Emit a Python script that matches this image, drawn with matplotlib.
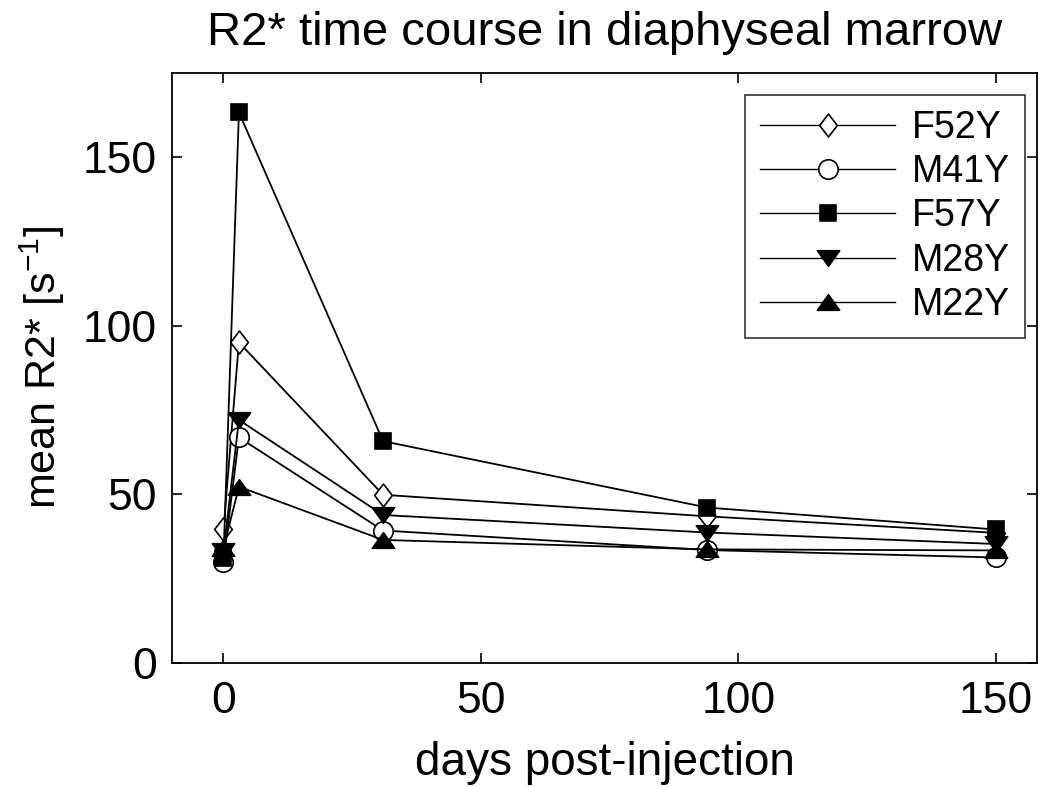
import matplotlib
matplotlib.use("Agg")
import matplotlib.pyplot as plt
from matplotlib.path import Path

plt.rcParams['font.family'] = ['Liberation Sans', 'DejaVu Sans']
plt.rcParams['mathtext.fontset'] = 'custom'
plt.rcParams['mathtext.rm'] = 'Liberation Sans'
plt.rcParams['mathtext.it'] = 'Liberation Sans:italic'

days = [0, 3, 31, 94, 150]
series_names = ["F52Y", "M41Y", "F57Y", "M28Y", "M22Y"]
F52Y = [39.5, 95.0, 49.8, 43.4, 38.5]
M41Y = [30.0, 66.8, 39.2, 33.4, 31.2]
F57Y = [31.0, 163.2, 65.7, 46.0, 39.5]
M28Y = [33.0, 72.0, 43.8, 38.6, 35.2]
M22Y = [34.0, 52.2, 36.4, 33.6, 33.3]
values = [F52Y, M41Y, F57Y, M28Y, M22Y]
xticks = [0, 50, 100, 150]
yticks = [0, 50, 100, 150]

diamond = Path([(0, 1), (0.77, 0), (0, -1), (-0.77, 0), (0, 1)],
               [Path.MOVETO, Path.LINETO, Path.LINETO, Path.LINETO, Path.CLOSEPOLY])
tri_down = Path([(-1, 0.7), (1, 0.7), (0, -0.7), (-1, 0.7)],
                [Path.MOVETO, Path.LINETO, Path.LINETO, Path.CLOSEPOLY])
tri_up = Path([(-1, -0.7), (1, -0.7), (0, 0.7), (-1, -0.7)],
              [Path.MOVETO, Path.LINETO, Path.LINETO, Path.CLOSEPOLY])

styles = [
    dict(marker=diamond, markersize=16.5, markerfacecolor='white'),
    dict(marker='o', markersize=14, markerfacecolor='white'),
    dict(marker='s', markersize=12, markerfacecolor='black'),
    dict(marker=tri_down, markersize=16, markerfacecolor='black'),
    dict(marker=tri_up, markersize=16, markerfacecolor='black'),
]

fig = plt.figure(figsize=(10.5, 7.87), dpi=100)
ax = fig.add_axes([0.1638, 0.158, 0.9876 - 0.1638, 0.9076 - 0.158])

for name, vals, st in zip(series_names, values, styles):
    ax.plot(days, vals, color='black', linewidth=1.3, markeredgecolor='black',
            markeredgewidth=1.2, label=name, **st)

ax.set_xlim(-10, 158)
ax.set_ylim(0, 175)
ax.set_xticks(xticks)
ax.set_yticks(yticks)
ax.tick_params(direction='in', length=7, width=1.2, labelsize=32, top=True, right=True)
ax.tick_params(axis='x', pad=13)
ax.tick_params(axis='y', pad=11)
for s in ax.spines.values():
    s.set_linewidth(1.3)

ax.set_xlabel('days post-injection', fontsize=33, labelpad=14)
ax.set_ylabel(r'mean R2* [s$^{\mathregular{-1}}$]', fontsize=31, labelpad=11)
ax.set_title('R2* time course in diaphyseal marrow', fontsize=34, pad=20)

leg = ax.legend(loc='upper right', bbox_to_anchor=(1025/1050, 1 - 95/787), bbox_transform=fig.transFigure,
                borderaxespad=0,
                fontsize=27, frameon=True, fancybox=False, edgecolor='black',
                handlelength=3.6, handletextpad=0.45, labelspacing=0.22, borderpad=0.4)
leg.get_frame().set_linewidth(1.2)
for h in leg.legend_handles:
    h.set_linewidth(1.0)

fig.savefig('out.png', dpi=100, facecolor='white')
